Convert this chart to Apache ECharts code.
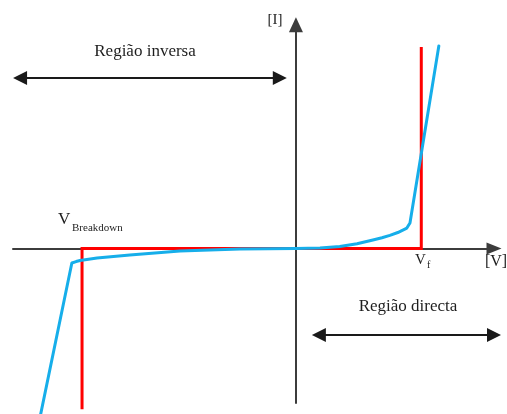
<!DOCTYPE html>
<html>
<head>
<meta charset="utf-8">
<script src="https://cdn.jsdelivr.net/npm/echarts@6/dist/echarts.min.js"></script>
<style>
  html, body { margin: 0; background: #fff; }
  #chart { width: 507px; height: 414px; }
</style>
</head>
<body>
<div id="chart"></div>
<script>
// ideal diode (red)
const idealV = [-7.56, -7.56, 4.43, 4.43];
const idealI = [-10.4, 0, 0, 13.05];

// real diode (blue)
const realV = [-9.05, -7.92, -7.77, -7.63, -7.03, -5.87, -4.10, -1.98, 0, 0.85, 1.55, 2.16, 2.72, 3.04, 3.32, 3.60, 3.92, 4.03, 5.05];
const realI = [-10.97, -0.93, -0.84, -0.77, -0.61, -0.41, -0.16, -0.03, 0, 0.04, 0.13, 0.31, 0.56, 0.70, 0.86, 1.04, 1.33, 1.66, 13.12];

// region arrows
const inverseRange = [-9.75, -0.57];
const inverseLevel = 11.05;
const directRange = [0.81, 7.0];
const directLevel = -5.6;

const serif = '"Liberation Serif", "DejaVu Serif", serif';
const textColor = '#1e1e1e';

function zip(xs, ys) {
  return xs.map((x, i) => [x, ys[i]]);
}

function label(x, y, text, size, align) {
  return {
    type: 'text',
    x: x,
    y: y,
    style: {
      text: text,
      font: size + 'px ' + serif,
      fill: textColor,
      textAlign: align || 'center',
      textVerticalAlign: 'middle',
      align: align || 'center',
      verticalAlign: 'middle',
    },
  };
}

const chart = echarts.init(document.getElementById('chart'));
chart.setOption({
  animation: false,
  grid: { left: 13, right: 13, top: 24.7, bottom: 11 },
  xAxis: {
    type: 'value',
    min: -10,
    max: 7,
    axisLine: {
      show: true,
      onZero: true,
      symbol: ['none', 'triangle'],
      symbolSize: [12, 15],
      lineStyle: { color: '#3c3c3c', width: 2 },
    },
    axisTick: { show: false },
    axisLabel: { show: false },
    splitLine: { show: false },
  },
  yAxis: {
    type: 'value',
    min: -10,
    max: 14.5,
    axisLine: {
      show: true,
      onZero: true,
      symbol: ['none', 'triangle'],
      symbolSize: [14, 15],
      lineStyle: { color: '#3c3c3c', width: 2 },
    },
    axisTick: { show: false },
    axisLabel: { show: false },
    splitLine: { show: false },
  },
  series: [
    {
      name: 'ideal',
      type: 'line',
      data: zip(idealV, idealI),
      showSymbol: false,
      clip: false,
      z: 2,
      lineStyle: { color: '#ff0000', width: 3, join: 'miter' },
      markLine: {
        silent: true,
        symbol: ['triangle', 'triangle'],
        symbolSize: [14, 14],
        label: { show: false },
        lineStyle: { color: '#1a1a1a', width: 2, type: 'solid' },
        data: [
          [{ coord: [inverseRange[0], inverseLevel] }, { coord: [inverseRange[1], inverseLevel] }],
          [{ coord: [directRange[0], directLevel] }, { coord: [directRange[1], directLevel] }],
        ],
      },
    },
    {
      name: 'real',
      type: 'line',
      data: zip(realV, realI),
      showSymbol: false,
      clip: false,
      z: 3,
      lineStyle: { color: '#16aeea', width: 3, join: 'round', cap: 'round' },
    },
  ],
  graphic: [
    label(145, 52, 'Região inversa', 17),
    label(408, 307, 'Região directa', 17),
    label(275, 20, '[I]', 15),
    label(496, 262, '[V]', 16),
    label(415, 260, 'V', 15, 'left'),
    label(427, 265, 'f', 10, 'left'),
    label(58, 220, 'V', 17, 'left'),
    label(72, 228, 'Breakdown', 11, 'left'),
  ],
});
</script>
</body>
</html>
